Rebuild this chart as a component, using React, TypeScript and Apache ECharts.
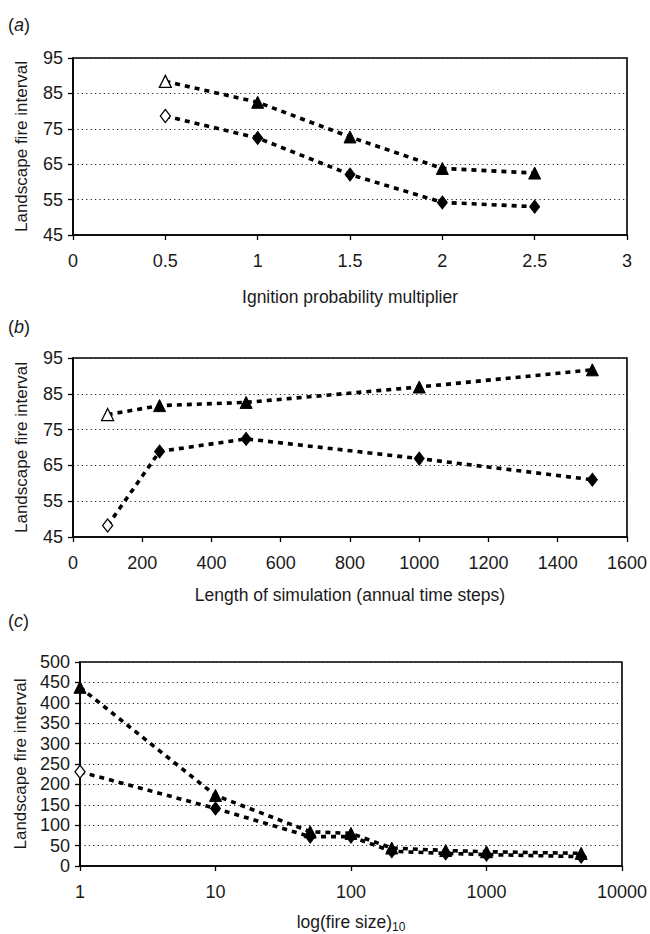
import React, { useEffect, useRef } from "react";
import * as echarts from "echarts";

const FONT = "'Liberation Sans', Arial, Helvetica, sans-serif";

// Panel (a)
const xA = [0.5, 1, 1.5, 2, 2.5];
const triA = [88.4, 82.5, 72.7, 63.8, 62.5];
const diaA = [78.6, 72.4, 62.1, 54.2, 53];

// Panel (b)
const xB = [100, 250, 500, 1000, 1500];
const triB = [79.2, 81.7, 82.6, 86.9, 91.7];
const diaB = [48.2, 68.9, 72.4, 66.9, 61];

// Panel (c)
const xC = [1, 10, 50, 100, 200, 500, 1000, 5000];
const triC = [438, 173, 84, 80, 44, 38, 35, 31];
const diaC = [231, 141, 72, 72, 36, 31, 28, 23];

const yTitle = "Landscape fire interval";
const xTitleA = "Ignition probability multiplier";
const xTitleB = "Length of simulation (annual time steps)";

function pts(xs: number[], ys: number[], hollowFirst: boolean) {
  return xs.map((x, i) =>
    i === 0 && hollowFirst
      ? {
          value: [x, ys[i]],
          itemStyle: { color: "#fff", borderColor: "#000", borderWidth: 1.3 },
        }
      : [x, ys[i]]
  );
}

export default function App() {
  const ref = useRef<HTMLDivElement>(null);
  useEffect(() => {
    document.body.style.margin = "0";
    if (!ref.current) return;
    const chart = echarts.init(ref.current, null, { renderer: "svg" });

    const TXT = "#1a1a1a";
    const axisLine = { lineStyle: { color: "#000", width: 1.6 } };
    const axisTick = { show: true, length: 5, lineStyle: { color: "#000", width: 1.3 } };
    const labelStyle = {
      fontSize: 18,
      color: TXT,
      fontFamily: FONT,
      formatter: (v: number) => String(v),
    };
    const split = { show: true, lineStyle: { color: "#222", width: 1.2, type: [1.2, 3.2] } };

    const grid = (left: number, top: number, height: number) => ({
      left,
      top,
      width: 627 - left,
      height,
      show: true,
      borderColor: "#000",
      borderWidth: 1.6,
      backgroundColor: "transparent",
    });

    const xAxisBase = (gridIndex: number, name: any, gap: number, extra: any) => ({
      gridIndex,
      name,
      nameLocation: "middle",
      nameGap: gap,
      nameTextStyle: {
        fontSize: 17.5,
        color: TXT,
        fontFamily: FONT,
        rich: {
          m: { fontSize: 17.5, color: TXT, fontFamily: FONT },
          s: { fontSize: 12, color: TXT, fontFamily: FONT, padding: [10, 0, 0, 0] },
        },
      },
      axisLine,
      axisTick,
      axisLabel: { ...labelStyle, margin: 17 },
      splitLine: { show: false },
      ...extra,
    });

    const yAxisBase = (gridIndex: number, gap: number, margin: number, extra: any) => ({
      gridIndex,
      name: yTitle,
      nameLocation: "middle",
      nameGap: gap,
      nameTextStyle: { fontSize: 17, color: TXT, fontFamily: FONT },
      axisLine: { show: true, ...axisLine },
      axisTick,
      axisLabel: { ...labelStyle, margin },
      splitLine: split,
      ...extra,
    });

    const lineSeries = (xi: number, data: any[], symbol: string, size: any) => ({
      type: "line",
      xAxisIndex: xi,
      yAxisIndex: xi,
      data,
      symbol,
      symbolSize: size,
      showSymbol: true,
      itemStyle: { color: "#000", borderColor: "#000" },
      lineStyle: { color: "#000", width: 3.6, type: [5, 5] },
      z: 3,
    });

    const label = (txt: string, y: number) => ({
      type: "text",
      left: 8,
      top: y - 11,
      style: {
        text: `{n|(}{i|${txt}}{n|)}`,
        rich: {
          n: { fontSize: 18, fontFamily: FONT, fill: TXT },
          i: { fontSize: 18, fontFamily: FONT, fontStyle: "italic", fill: TXT },
        },
      },
    });

    chart.setOption({
      animation: false,
      backgroundColor: "#fff",
      grid: [grid(73, 58, 177), grid(73, 358, 179), grid(80, 662, 207)],
      xAxis: [
        xAxisBase(0, xTitleA, 53, { type: "value", min: 0, max: 3, interval: 0.5 }),
        xAxisBase(1, xTitleB, 49, { type: "value", min: 0, max: 1600, interval: 200 }),
        xAxisBase(2, "{m|log(fire size)}{s|10}", 45, {
          type: "log",
          logBase: 10,
          min: 1,
          max: 10000,
          minorTick: { show: false },
        }),
      ],
      yAxis: [
        yAxisBase(0, 43, 10, { type: "value", min: 45, max: 95, interval: 10 }),
        yAxisBase(1, 43, 10, { type: "value", min: 45, max: 95, interval: 10 }),
        yAxisBase(2, 51, 10, { type: "value", min: 0, max: 500, interval: 50 }),
      ],
      graphic: [label("a", 27), label("b", 329), label("c", 623)],
      series: [
        lineSeries(0, pts(xA, triA, true), "triangle", 12),
        lineSeries(0, pts(xA, diaA, true), "diamond", [10, 13]),
        lineSeries(1, pts(xB, triB, true), "triangle", 12),
        lineSeries(1, pts(xB, diaB, true), "diamond", [10, 13]),
        lineSeries(2, pts(xC, triC, false), "triangle", 12),
        lineSeries(2, pts(xC, diaC, true), "diamond", [10, 13]),
      ],
    });
    return () => chart.dispose();
  }, []);
  return <div ref={ref} style={{ width: 650, height: 934 }} />;
}
